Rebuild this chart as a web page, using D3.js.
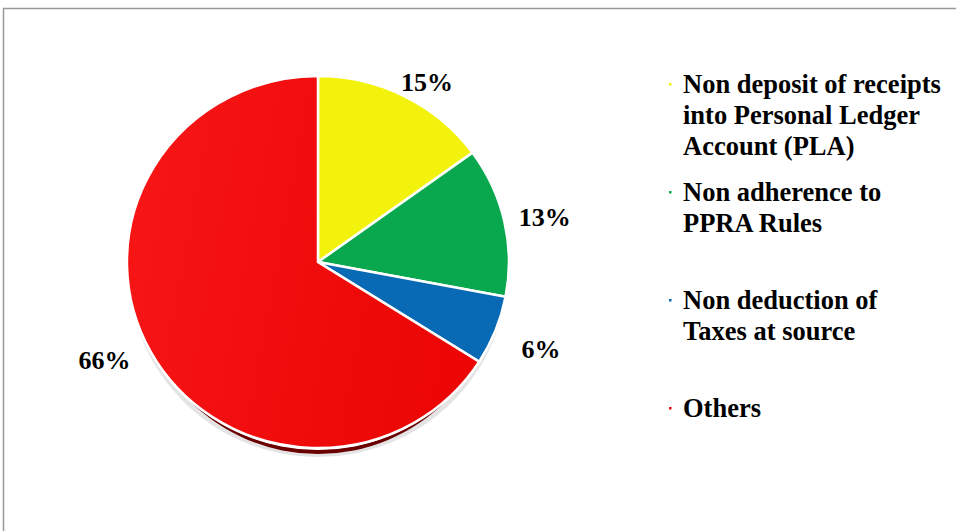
<!DOCTYPE html>
<html>
<head>
<meta charset="utf-8">
<script src="https://cdn.jsdelivr.net/npm/d3@7"></script>
<style>
  body { margin: 0; background: #fff; }
</style>
</head>
<body>
<script>
// audit observations pie
var categories = [
  ["Non deposit of receipts", "into Personal Ledger", "Account (PLA)"],
  ["Non adherence to", "PPRA Rules"],
  ["Non deduction of", "Taxes at source"],
  ["Others"]
];
var values = [15, 13, 6, 66];
var labels = ["15%", "13%", "6%", "66%"];
var colors = ["#f2f20c", "#0aa84e", "#0869b4", "#f20c0c"];

var width = 956,
    height = 531,
    cx = 318, cy = 262,
    rx = 191, ry = 186;

var font = "'Liberation Serif', 'Times New Roman', Times, serif";

var svg = d3.select("body").append("svg")
    .attr("width", width)
    .attr("height", height);

// outline (only top and left show in the frame)
svg.append("path")
    .attr("d", "M3.5," + height + "V8.5H" + width)
    .attr("fill", "none")
    .attr("stroke", "#999")
    .attr("stroke-width", 1.5);

var defs = svg.append("defs");
var grad = defs.append("linearGradient").attr("id", "redgrad")
    .attr("x1", "0%").attr("x2", "100%").attr("y1", "0%").attr("y2", "20%");
grad.append("stop").attr("offset", "0%").attr("stop-color", "#f81616");
grad.append("stop").attr("offset", "100%").attr("stop-color", "#ec0606");

var pie = d3.pie().sort(null).value(d => d);
var arcs = pie(values);
var arc = d3.arc().innerRadius(0).outerRadius(1);

var g = svg.append("g")
    .attr("transform", "translate(" + cx + "," + cy + ")");

// soft grey shadow and dark red rim under the pie
g.append("ellipse")
    .attr("cx", 0).attr("cy", 9)
    .attr("rx", rx - 2).attr("ry", ry)
    .attr("fill", "#e4e4e4");
g.append("ellipse")
    .attr("cx", 0).attr("cy", 7)
    .attr("rx", rx - 8).attr("ry", ry - 1)
    .attr("fill", "#6a0000");
g.append("ellipse")
    .attr("cx", 0).attr("cy", 2)
    .attr("rx", rx - 3).attr("ry", ry)
    .attr("fill", "#fff");

var slices = g.append("g")
    .attr("transform", "scale(" + rx + "," + ry + ")");

slices.selectAll("path")
    .data(arcs)
    .enter()
    .append("path")
    .attr("d", arc)
    .attr("fill", (d, i) => i == 3 ? "url(#redgrad)" : colors[i])
    .attr("stroke", "#fff")
    .attr("stroke-width", 2.5)
    .attr("vector-effect", "non-scaling-stroke");

// percentage labels outside the pie
var labelArc = d3.arc().innerRadius(1.12).outerRadius(1.12);
var labelNudge = [[12, 5], [18, 0], [24, 10], [-26, -2]];
g.selectAll("text.pct")
    .data(arcs)
    .enter()
    .append("text")
    .attr("class", "pct")
    .attr("x", (d, i) => labelArc.centroid(d)[0] * rx + labelNudge[i][0])
    .attr("y", (d, i) => labelArc.centroid(d)[1] * ry + labelNudge[i][1])
    .attr("text-anchor", "middle")
    .attr("dy", "0.35em")
    .attr("font-family", font)
    .attr("font-weight", "bold")
    .attr("font-size", 26)
    .text((d, i) => labels[i]);

// legend
var legendTop = [84, 192, 300, 408];
var legend = svg.append("g").attr("class", "legend");
categories.forEach(function(lines, i) {
  var row = legend.append("g")
      .attr("transform", "translate(670," + legendTop[i] + ")");
  row.append("rect")
      .attr("x", -1).attr("y", -1)
      .attr("width", 2.5).attr("height", 2.5)
      .attr("fill", colors[i]);
  row.selectAll("text")
      .data(lines)
      .enter()
      .append("text")
      .attr("x", 13)
      .attr("y", (d, j) => j * 31)
      .attr("dy", "0.35em")
      .attr("font-family", font)
      .attr("font-weight", "bold")
      .attr("font-size", 26.5)
      .text(d => d);
});
</script>
</body>
</html>
